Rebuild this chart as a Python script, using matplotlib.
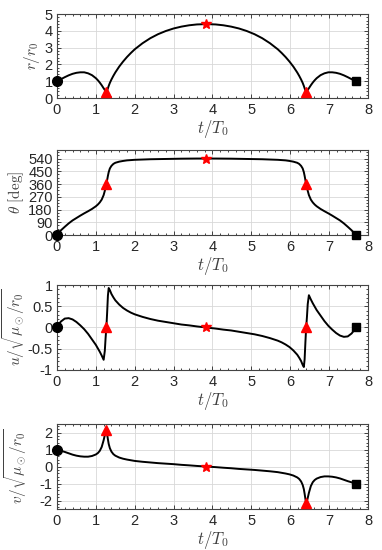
import numpy as np
import matplotlib.pyplot as plt
from matplotlib.ticker import AutoMinorLocator

# time samples (t/T0)
t = [0.0, 0.05, 0.1, 0.2, 0.3, 0.4, 0.5, 0.6, 0.7, 0.8, 0.9, 1.0, 1.05, 1.1, 1.15,
     1.2, 1.23, 1.25, 1.27, 1.29, 1.31, 1.33, 1.36, 1.4, 1.45, 1.5, 1.6, 1.7, 1.8,
     1.9, 2.0, 2.2, 2.4, 2.6, 2.8, 3.0, 3.2, 3.4, 3.6, 3.84,
     4.08, 4.28, 4.48, 4.68, 4.88, 5.08, 5.28, 5.48, 5.68, 5.78, 5.88, 5.98, 6.08,
     6.18, 6.23, 6.28, 6.32, 6.35, 6.37, 6.39, 6.41, 6.43, 6.45, 6.48, 6.53, 6.58,
     6.63, 6.68, 6.78, 6.88, 6.98, 7.08, 7.18, 7.28, 7.38, 7.48, 7.58, 7.63, 7.68]

r = [1.00, 1.06, 1.12, 1.24, 1.35, 1.44, 1.50, 1.53, 1.53, 1.47, 1.36, 1.18, 1.06,
     0.92, 0.76, 0.58, 0.48, 0.40, 0.35, 0.45, 0.58, 0.72, 0.90, 1.10, 1.32, 1.52,
     1.87, 2.17, 2.44, 2.68, 2.90, 3.26, 3.56, 3.80, 3.99, 4.14, 4.25, 4.33, 4.38,
     4.40,
     4.38, 4.33, 4.25, 4.14, 3.99, 3.80, 3.56, 3.26, 2.90, 2.68, 2.44, 2.17, 1.87,
     1.52, 1.32, 1.10, 0.90, 0.72, 0.58, 0.45, 0.35, 0.40, 0.48, 0.58, 0.76, 0.92,
     1.06, 1.18, 1.36, 1.47, 1.53, 1.53, 1.50, 1.44, 1.35, 1.24, 1.12, 1.06, 1.00]

theta = [0, 18, 33, 58, 82, 103, 120, 137, 153, 168, 184, 203, 215, 230, 250,
         282, 312, 336, 360, 388, 418, 444, 470, 488, 502, 510, 518, 523, 527,
         529, 531, 533, 535, 536, 537, 538, 539, 539.5, 540, 540,
         540, 539.5, 539, 538, 537, 536, 535, 533, 531, 529, 527, 523, 518,
         510, 502, 488, 470, 444, 418, 388, 360, 336, 312, 282, 250, 230,
         215, 203, 184, 168, 153, 137, 120, 103, 82, 58, 33, 18, 0]

u = [0.0, 0.08, 0.14, 0.21, 0.22, 0.19, 0.13, 0.05, -0.04, -0.15, -0.28, -0.41,
     -0.49, -0.57, -0.66, -0.76, -0.55, -0.25, 0.0, 0.35, 0.75, 0.93, 0.88, 0.79,
     0.71, 0.64, 0.54, 0.46, 0.40, 0.35, 0.31, 0.25, 0.20, 0.16, 0.13, 0.10, 0.07,
     0.05, 0.025, 0.0,
     -0.025, -0.05, -0.07, -0.10, -0.13, -0.16, -0.20, -0.25, -0.31, -0.35, -0.40,
     -0.46, -0.54, -0.64, -0.71, -0.79, -0.88, -0.93, -0.75, -0.35, 0.0, 0.25,
     0.55, 0.76, 0.66, 0.57, 0.49, 0.41, 0.28, 0.15, 0.04, -0.05, -0.13, -0.19,
     -0.22, -0.21, -0.14, -0.08, 0.0]

v = [1.00, 0.97, 0.93, 0.86, 0.78, 0.70, 0.64, 0.60, 0.58, 0.58, 0.62, 0.71, 0.79,
     0.92, 1.15, 1.55, 1.85, 2.05, 2.15, 1.90, 1.60, 1.33, 1.08, 0.88, 0.73, 0.64,
     0.53, 0.46, 0.41, 0.37, 0.33, 0.28, 0.24, 0.20, 0.17, 0.14, 0.10, 0.07, 0.035,
     0.0,
     -0.035, -0.07, -0.10, -0.14, -0.17, -0.20, -0.24, -0.28, -0.33, -0.37, -0.41,
     -0.46, -0.53, -0.64, -0.73, -0.88, -1.08, -1.33, -1.60, -1.90, -2.15, -2.05,
     -1.85, -1.55, -1.15, -0.92, -0.79, -0.71, -0.62, -0.58, -0.58, -0.60, -0.64,
     -0.70, -0.78, -0.86, -0.93, -0.97, -1.00]

# indices of the special points: start, perihelia, aphelion, end
i_start, i_p1, i_mid, i_p2, i_end = 0, 18, 39, 60, 78

plt.rcParams['font.family'] = ['Liberation Sans', 'DejaVu Sans']
plt.rcParams['mathtext.fontset'] = 'cm'
plt.rcParams['axes.unicode_minus'] = False

fig = plt.figure(figsize=(3.82, 5.5), dpi=100)

# data, axes box, y-limits, y-ticks, y-label, y-label x position (axes fraction)
panels = [
    (r, [0.1492, 0.8218, 0.8141, 0.1527], (0, 5), [0, 1, 2, 3, 4, 5], r'$r/r_0$', -0.08),
    (theta, [0.1492, 0.5727, 0.8141, 0.1545], (0, 600), [0, 90, 180, 270, 360, 450, 540],
     r'$\theta\ [\mathrm{deg}]$', -0.13),
    (u, [0.1492, 0.3273, 0.8141, 0.1545], (-1, 1), [-1, -0.5, 0, 0.5, 1],
     r'$u/\sqrt{\mu_\odot/r_0}$', -0.14),
    (v, [0.1492, 0.0745, 0.8141, 0.1545], (-2.5, 2.5), [-2, -1, 0, 1, 2],
     r'$v/\sqrt{\mu_\odot/r_0}$', -0.135),
]

dark = '#262626'
for y, pos, ylim, yticks, ylabel, ylx in panels:
    ax = fig.add_axes(pos)
    ax.plot(t, y, color='black', lw=1.4, zorder=3)
    ax.plot(t[i_start], y[i_start], 'o', color='black', ms=7, zorder=4, clip_on=False)
    ax.plot(t[i_end], y[i_end], 's', color='black', ms=5.5, zorder=4, clip_on=False)
    ax.plot([t[i_p1], t[i_p2]], [y[i_p1], y[i_p2]], '^', color='red', ms=7.5,
            zorder=5, clip_on=False)
    ax.plot(t[i_mid], y[i_mid], '*', color='red', ms=7.5, zorder=5, clip_on=False)

    ax.set_xlim(0, 8)
    ax.set_ylim(*ylim)
    ax.set_xticks(range(9))
    ax.set_yticks(yticks)
    ax.set_yticklabels([f'{v_:g}' for v_ in yticks])
    ax.xaxis.set_minor_locator(AutoMinorLocator(5))
    ax.yaxis.set_minor_locator(AutoMinorLocator())
    ax.tick_params(which='both', direction='in', top=True, right=True,
                   colors=dark, labelsize=10.5, labelcolor=dark, width=0.6)
    ax.tick_params(which='major', length=3)
    ax.tick_params(axis='x', which='major', pad=3.5)
    ax.tick_params(axis='y', which='major', pad=3)
    ax.tick_params(which='minor', length=1.5)
    ax.grid(True, which='major', color='#d8d8d8', lw=0.6, zorder=0)
    for s in ax.spines.values():
        s.set_color('#444444')
        s.set_linewidth(0.8)
    h_px = pos[3] * 550
    ax.set_xlabel(r'$t/T_0$', fontsize=12, color='#404040')
    ax.xaxis.set_label_coords(0.5, -31 / h_px)
    ax.xaxis.label.set_va('center')
    ax.set_ylabel(ylabel, fontsize=11, color='#404040')
    ax.yaxis.set_label_coords(ylx, 0.5)
    ax.yaxis.label.set_va('center')

plt.savefig('out.png', dpi=100)
